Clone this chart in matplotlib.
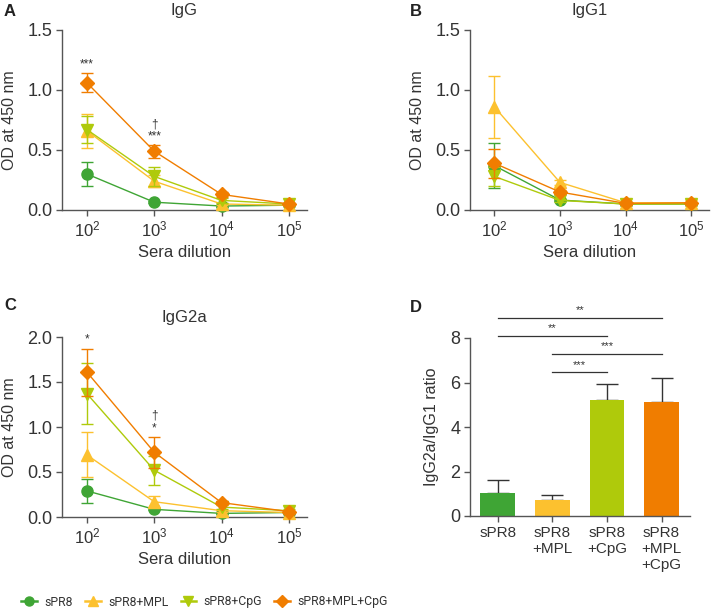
import matplotlib
matplotlib.use("Agg")
import matplotlib.pyplot as plt
from matplotlib.lines import Line2D
import numpy as np

plt.rcParams['font.family'] = ['Liberation Sans', 'DejaVu Sans']
plt.rcParams['font.size'] = 10

dilutions = [1e2, 1e3, 1e4, 1e5]
dil_labels = ['$\\mathregular{10^{2}}$', '$\\mathregular{10^{3}}$',
              '$\\mathregular{10^{4}}$', '$\\mathregular{10^{5}}$']
groups = ['sPR8', 'sPR8+MPL', 'sPR8+CpG', 'sPR8+MPL+CpG']
colors = ['#3fa535', '#fcc12f', '#afca0b', '#f07d00']
markers = ['o', '^', 'v', 'D']
msizes = [8, 8, 8, 7]

# IgG (panel A)
igg_mean = [[0.30, 0.065, 0.033, 0.04],
            [0.66, 0.24, 0.05, 0.04],
            [0.67, 0.28, 0.08, 0.05],
            [1.06, 0.49, 0.13, 0.05]]
igg_err = [[0.10, 0.01, 0.005, 0.005],
           [0.14, 0.05, 0.01, 0.01],
           [0.11, 0.08, 0.02, 0.01],
           [0.08, 0.055, 0.02, 0.01]]
# IgG1 (panel B)
igg1_mean = [[0.37, 0.083, 0.05, 0.05],
             [0.86, 0.23, 0.06, 0.06],
             [0.28, 0.08, 0.05, 0.05],
             [0.39, 0.15, 0.055, 0.06]]
igg1_err = [[0.19, 0.01, 0.005, 0.005],
            [0.26, 0.02, 0.01, 0.02],
            [0.08, 0.01, 0.005, 0.01],
            [0.12, 0.02, 0.01, 0.01]]
# IgG2a (panel C)
igg2a_mean = [[0.29, 0.085, 0.04, 0.05],
              [0.69, 0.17, 0.07, 0.05],
              [1.37, 0.52, 0.11, 0.07],
              [1.61, 0.72, 0.16, 0.06]]
igg2a_err = [[0.13, 0.01, 0.005, 0.005],
             [0.25, 0.06, 0.01, 0.01],
             [0.34, 0.16, 0.02, 0.02],
             [0.26, 0.17, 0.02, 0.01]]
# Ratio (panel D)
bar_labels = ['sPR8', 'sPR8\n+MPL', 'sPR8\n+CpG', 'sPR8\n+MPL\n+CpG']
ratio_mean = [1.03, 0.72, 5.23, 5.14]
ratio_err = [0.58, 0.22, 0.69, 1.08]
sig_pairs = [(0, 3), (0, 2), (1, 3), (1, 2)]
sig_labels = ['**', '**', '***', '***']
sig_y = [8.91, 8.09, 7.27, 6.45]

W, H = 711, 611
fig = plt.figure(figsize=(W / 100, H / 100), dpi=100)

def fpos(x0, x1, ytop, ybot):
    return [x0 / W, 1 - ybot / H, (x1 - x0) / W, (ybot - ytop) / H]

spine_c = '#555555'
txt_c = '#333333'

def style(ax, ysize=13, xsize=12):
    for s in ['top', 'right']:
        ax.spines[s].set_visible(False)
    for s in ['left', 'bottom']:
        ax.spines[s].set_color(spine_c)
        ax.spines[s].set_linewidth(1.0)
    ax.tick_params(colors=spine_c, labelcolor=txt_c, length=4, width=1.0,
                   pad=3)
    ax.tick_params(axis='y', labelsize=ysize)
    ax.tick_params(axis='x', labelsize=xsize)

def line_panel(ax, means, errs, ymax, yticks, title, ylab):
    for i in range(4):
        ax.errorbar(dilutions, means[i], yerr=errs[i], color=colors[i],
                    marker=markers[i], markersize=msizes[i], lw=1.0,
                    capsize=4, elinewidth=1.0, capthick=1.0, clip_on=False,
                    zorder=3 + i)
    ax.set_xscale('log')
    ax.set_xlim(10 ** 1.63, 10 ** 5.27)
    ax.set_xticks(dilutions)
    ax.set_xticklabels(dil_labels)
    ax.xaxis.set_minor_locator(matplotlib.ticker.NullLocator())
    ax.set_ylim(0, ymax)
    ax.set_yticks(yticks)
    ax.set_yticklabels(['%.1f' % t for t in yticks])
    style(ax)
    ax.set_title(title, fontsize=12, color=txt_c, pad=11)
    ax.set_ylabel(ylab, fontsize=11.5, color=txt_c, labelpad=7)
    ax.set_xlabel('Sera dilution', fontsize=12, color=txt_c, labelpad=4)

axA = fig.add_axes(fpos(62, 307, 30, 210))
line_panel(axA, igg_mean, igg_err, 1.5, [0, 0.5, 1.0, 1.5], 'IgG', 'OD at 450 nm')
axA.text(1e2, 1.21, '***', ha='center', va='center', fontsize=8.5, color=txt_c)
axA.text(1e3, 0.71, '\u2020', ha='center', va='center', fontsize=8.5, color=txt_c)
axA.text(1e3, 0.61, '***', ha='center', va='center', fontsize=8.5, color=txt_c)

axB = fig.add_axes(fpos(470, 709, 30, 210))
line_panel(axB, igg1_mean, igg1_err, 1.5, [0, 0.5, 1.0, 1.5], 'IgG1', 'OD at 450 nm')

axC = fig.add_axes(fpos(62, 307, 337, 517))
line_panel(axC, igg2a_mean, igg2a_err, 2.0, [0, 0.5, 1.0, 1.5, 2.0], 'IgG2a', 'OD at 450 nm')
axC.text(1e2, 1.97, '*', ha='center', va='center', fontsize=8.5, color=txt_c)
axC.text(1e3, 1.13, '\u2020', ha='center', va='center', fontsize=8.5, color=txt_c)
axC.text(1e3, 0.98, '*', ha='center', va='center', fontsize=8.5, color=txt_c)

axD = fig.add_axes(fpos(470, 690, 338, 516))
xb = np.arange(len(ratio_mean))
axD.bar(xb, ratio_mean, width=0.64, color=colors, zorder=2)
axD.errorbar(xb, ratio_mean, yerr=[np.zeros(len(ratio_err)), ratio_err],
             fmt='none', ecolor=txt_c, elinewidth=1.0, capsize=8, capthick=1.0,
             zorder=1)
axD.set_xlim(-0.51, 3.52)
axD.set_ylim(0, 8)
axD.set_yticks([0, 2, 4, 6, 8])
axD.set_xticks(xb)
axD.set_xticklabels(bar_labels, linespacing=1.2)
style(axD, ysize=13, xsize=11)
axD.set_ylabel('IgG2a/IgG1 ratio', fontsize=11.5, color=txt_c, labelpad=8)
for (a, b), lab, yv in zip(sig_pairs, sig_labels, sig_y):
    axD.plot([a, b], [yv, yv], color=txt_c, lw=0.9, clip_on=False)
    axD.text((a + b) / 2, yv + 0.12, lab, ha='center', va='bottom',
             fontsize=8, color=txt_c, clip_on=False)

# panel letters
for x, y, s in [(4, 12, 'A'), (410, 12, 'B'), (4, 306, 'C'), (410, 308, 'D')]:
    fig.text(x / W, 1 - y / H, s, fontsize=12, fontweight='bold',
             color='#222222', va='center', ha='left')

# legend
handles = [Line2D([0], [0], color=colors[i], marker=markers[i],
                  markersize=6.5, lw=1.8) for i in range(4)]
leg = fig.legend(handles, groups, loc='center left',
                 bbox_to_anchor=(10 / W, 1 - 602 / H), ncol=4, frameon=False,
                 handlelength=1.3, columnspacing=1.0, handletextpad=0.6,
                 prop={'family': ['Roboto', 'DejaVu Sans'], 'size': 8.8})
for t in leg.get_texts():
    t.set_color(txt_c)

fig.savefig('out.png', dpi=100)
